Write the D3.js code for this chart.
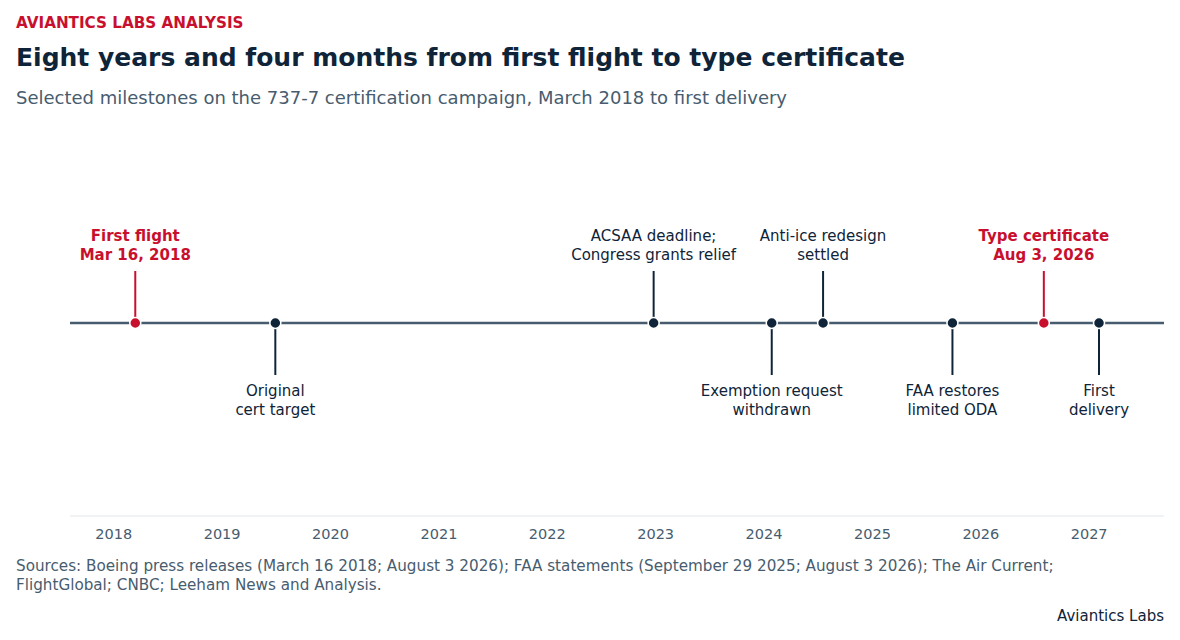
<!DOCTYPE html>
<html><head><meta charset="utf-8">
<script src="https://cdn.jsdelivr.net/npm/d3@7"></script>
<style>body{margin:0;background:#fff;font-family:"DejaVu Sans",sans-serif}</style>
</head><body><svg id="c" width="1180" height="640"></svg>
<script>
const dates=["2018-03-16","2019-07-01","2022-12-27","2024-01-29","2024-07-20","2025-09-29","2026-08-03","2027-02-05"];
const labels=[["First flight","Mar 16, 2018"],["Original","cert target"],["ACSAA deadline;","Congress grants relief"],["Exemption request","withdrawn"],["Anti-ice redesign","settled"],["FAA restores","limited ODA"],["Type certificate","Aug 3, 2026"],["First","delivery"]];
const sides=[1,-1,1,-1,1,-1,1,-1];
const highlight=[true,false,false,false,false,false,true,false];
const tickYears=[2018,2019,2020,2021,2022,2023,2024,2025,2026,2027];
const parse=d3.timeParse("%Y-%m-%d");
const svg=d3.select("#c");
const navy="#0f2438",red="#c8102e",grey="#475c6e";
const x=d3.scaleTime().domain([parse("2017-08-08"),parse("2027-09-12")]).range([70,1164]);
const y0=323;
svg.append("text").attr("x",16).attr("y",28).attr("fill",red).attr("font-size",15.2).attr("font-weight","bold").text("AVIANTICS LABS ANALYSIS");
svg.append("text").attr("x",16).attr("y",66).attr("fill",navy).attr("font-size",25).attr("font-weight","bold").text("Eight years and four months from first flight to type certificate");
svg.append("text").attr("x",16).attr("y",104).attr("fill",grey).attr("font-size",18).text("Selected milestones on the 737-7 certification campaign, March 2018 to first delivery");
svg.append("line").attr("x1",70).attr("x2",1164).attr("y1",516).attr("y2",516).attr("stroke","#e3e6e9");
const ax=svg.append("g").attr("transform","translate(0,516)").call(d3.axisBottom(x).tickValues(tickYears.map(t=>new Date(t,0,1))).tickFormat(d3.timeFormat("%Y")).tickSize(0).tickPadding(13));
ax.select(".domain").remove();
ax.selectAll("text").attr("fill",grey).attr("font-size",14.5).attr("font-family","DejaVu Sans");
svg.append("line").attr("x1",70).attr("x2",1164).attr("y1",y0).attr("y2",y0).attr("stroke",grey).attr("stroke-width",2.5);
dates.forEach((d,i)=>{
  const cx=x(parse(d)),c=highlight[i]?red:navy,s=sides[i];
  svg.append("line").attr("x1",cx).attr("x2",cx).attr("y1",y0).attr("y2",y0-s*52).attr("stroke",c).attr("stroke-width",2);
  svg.append("circle").attr("cx",cx).attr("cy",y0).attr("r",5.5).attr("fill",c).attr("stroke","#fff").attr("stroke-width",1.5);
  const t=svg.append("text").attr("text-anchor","middle").attr("fill",c).attr("font-size",15).attr("font-weight",highlight[i]?"bold":"normal");
  const ys=s>0?[241,260]:[396,415];
  labels[i].forEach((l,j)=>t.append("tspan").attr("x",cx).attr("y",ys[j]).text(l));
});
svg.append("text").attr("x",16).attr("y",571).attr("fill",grey).attr("font-size",15.2).text("Sources: Boeing press releases (March 16 2018; August 3 2026); FAA statements (September 29 2025; August 3 2026); The Air Current;");
svg.append("text").attr("x",16).attr("y",590).attr("fill",grey).attr("font-size",15.2).text("FlightGlobal; CNBC; Leeham News and Analysis.");
svg.append("text").attr("x",1164).attr("y",621).attr("text-anchor","end").attr("fill",navy).attr("font-size",15).text("Aviantics Labs");
</script></body></html>
